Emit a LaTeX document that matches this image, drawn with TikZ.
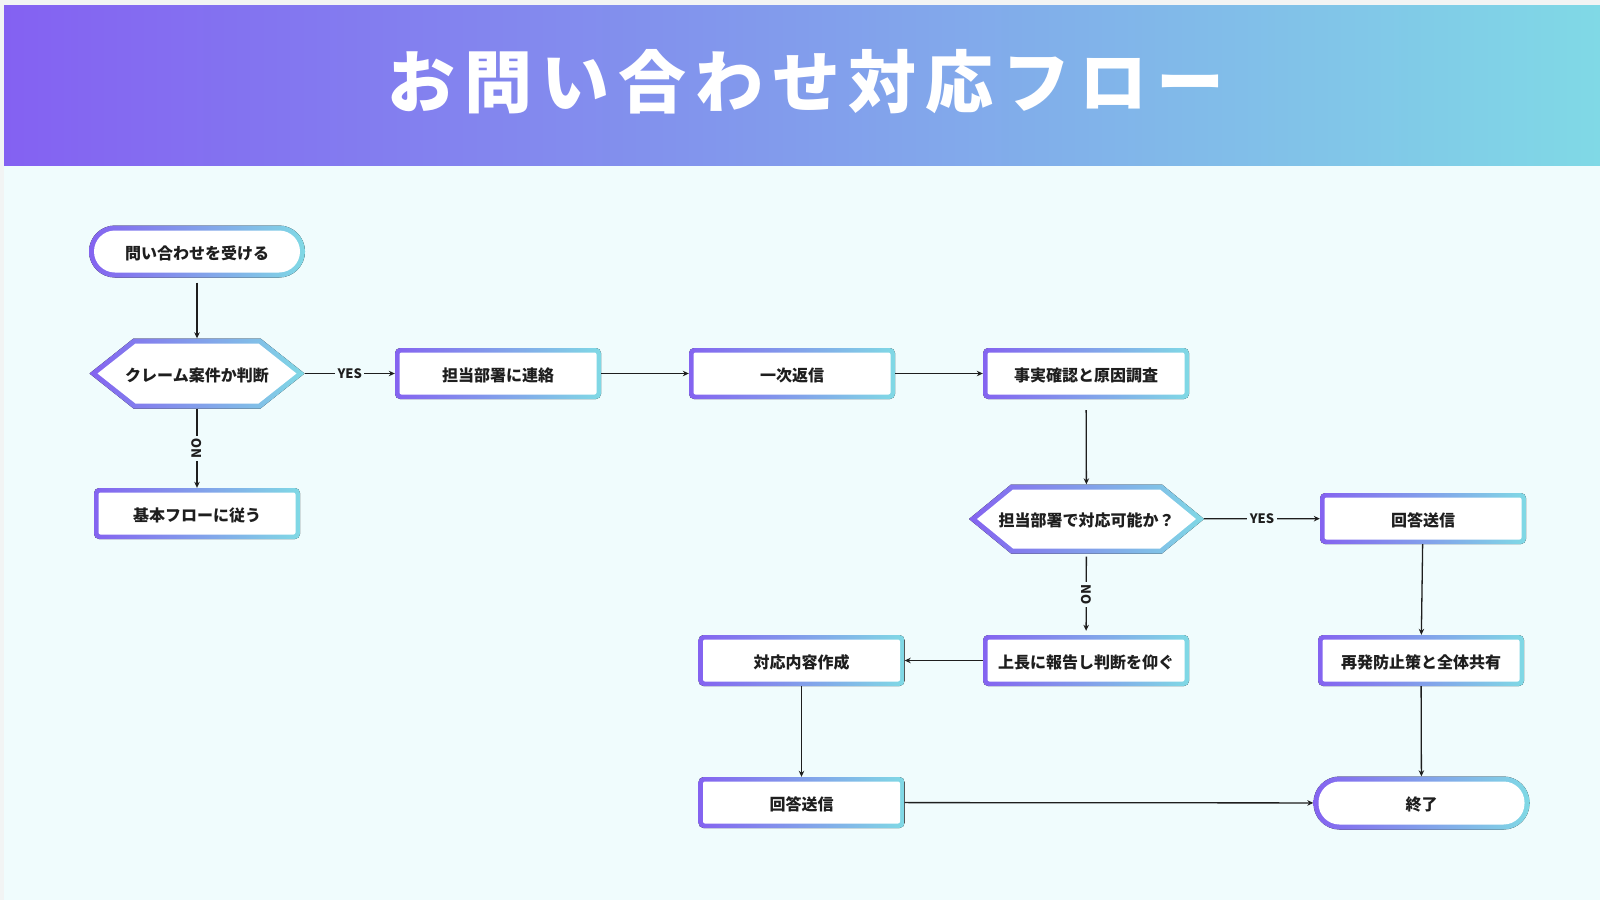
\documentclass[tikz,border=0pt]{standalone}
\usepackage{fontspec}
\usetikzlibrary{arrows.meta}
\newfontfamily\jp{Noto Sans CJK JP}
\newfontfamily\jptitle{Noto Sans CJK JP}[LetterSpace=13]
\definecolor{edgecol}{HTML}{F2F4F4}
\definecolor{bg}{HTML}{F0FCFD}
\definecolor{hA}{HTML}{8461F2}
\definecolor{hB}{HTML}{80D9E6}
\definecolor{pA}{HTML}{8463F0}
\definecolor{pB}{HTML}{80D9E5}
\definecolor{ink}{HTML}{1E1E1E}
\tikzset{
  lbl/.style={font=\jp\bfseries\fontsize{16}{18}\selectfont, text=ink, inner sep=0pt, align=center, text height=15pt, text depth=0pt},
  rbox/.style={lbl, minimum width=206pt, minimum height=51pt, path picture={
      \fill[left color=pA,right color=pB,rounded corners=5pt] (path picture bounding box.south west) rectangle (path picture bounding box.north east);
      \fill[white,rounded corners=2pt] ([shift={(4.5pt,4.5pt)}]path picture bounding box.south west) rectangle ([shift={(-4.5pt,-4.5pt)}]path picture bounding box.north east);}},
  stad/.style={lbl, minimum width=216pt, minimum height=52pt, path picture={
      \fill[left color=pA,right color=pB,rounded corners=26pt] (path picture bounding box.south west) rectangle (path picture bounding box.north east);
      \fill[white,rounded corners=21pt] ([shift={(5pt,5pt)}]path picture bounding box.south west) rectangle ([shift={(-5pt,-5pt)}]path picture bounding box.north east);}},
  hexbox/.style={lbl, path picture={
      \fill[left color=pA,right color=pB] (path picture bounding box.west) -- ([xshift=#1]path picture bounding box.north west) -- ([xshift=-#1]path picture bounding box.north east) -- (path picture bounding box.east) -- ([xshift=-#1]path picture bounding box.south east) -- ([xshift=#1]path picture bounding box.south west) -- cycle;
      \fill[white] ([xshift=8pt]path picture bounding box.west) -- ([shift={(#1+2pt,-5pt)}]path picture bounding box.north west) -- ([shift={(-#1-2pt,-5pt)}]path picture bounding box.north east) -- ([xshift=-8pt]path picture bounding box.east) -- ([shift={(-#1-2pt,5pt)}]path picture bounding box.south east) -- ([shift={(#1+2pt,5pt)}]path picture bounding box.south west) -- cycle;}},
  conn/.style={draw=ink, line width=1.3pt, -{Stealth[length=6pt,width=5.5pt]}},
  yn/.style={font=\jp\bfseries\fontsize{13}{13}\selectfont, fill=bg, text=ink, inner sep=2.5pt},
}
\begin{document}
\begin{tikzpicture}[x=1pt,y=-1pt]
\useasboundingbox (0,0) rectangle (1600,900);
\fill[edgecol] (0,0) rectangle (1600,900);
\fill[bg] (4,5) rectangle (1600,900);
\fill[left color=hA,right color=hB] (4,5) rectangle (1600,165);
\node[font=\jptitle\bfseries\fontsize{68}{70}\selectfont, text=white, inner sep=0pt] (title) at (806,82) {お問い合わせ対応フロー};

\node[stad] (start) at (197,251.5) {問い合わせを受ける};
\node[hexbox=44pt, minimum width=215pt, minimum height=70pt] (q1) at (197,373.5) {クレーム案件か判断};
\node[rbox] (basic) at (197,513.5) {基本フローに従う};
\node[rbox] (contact) at (498,373.5) {担当部署に連絡};
\node[rbox] (first) at (792,373.5) {一次返信};
\node[rbox] (fact) at (1086,373.5) {事実確認と原因調査};
\node[hexbox=42pt, minimum width=235pt, minimum height=69pt] (q2) at (1086.5,519) {担当部署で対応可能か？};
\node[rbox] (ans1) at (1423,518.5) {回答送信};
\node[rbox] (boss) at (1086,660.5) {上長に報告し判断を仰ぐ};
\node[rbox] (prevent) at (1421,660.5) {再発防止策と全体共有};
\node[rbox] (make) at (801.5,660.5) {対応内容作成};
\node[rbox] (ans2) at (801.5,802.5) {回答送信};
\node[stad, minimum height=53pt] (end) at (1421.5,803) {終了};

\draw[conn, shorten <=5pt] (start) -- (q1);
\draw[conn] (q1) -- node[yn]{YES} (contact);
\draw[conn] (q1) -- node[yn, rotate=90]{NO} (basic);
\draw[conn] (contact) -- (first);
\draw[conn] (first) -- (fact);
\draw[conn, shorten <=11pt] (fact) -- (q2);
\draw[conn] (q2) -- node[yn]{YES} (ans1);
\draw[conn, shorten <=3pt, shorten >=4pt] (q2) -- node[yn, rotate=-90]{NO} (boss);
\draw[conn] (boss) -- (make);
\draw[conn] (make) -- (ans2);
\draw[conn] (ans1) -- (prevent);
\draw[conn] (prevent) -- (end);
\draw[conn] (ans2) -- (end);
\end{tikzpicture}
\end{document}
